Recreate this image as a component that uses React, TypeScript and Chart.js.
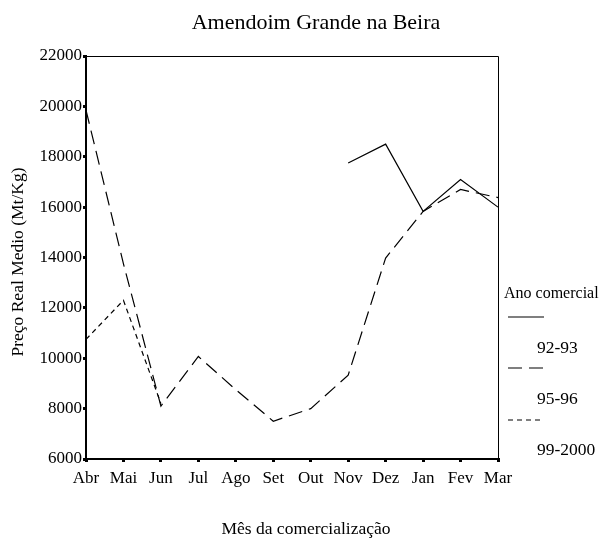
import React, { useEffect, useRef } from "react";
import { Chart, registerables } from "chart.js";

Chart.register(...registerables);

const months = ["Abr", "Mai", "Jun", "Jul", "Ago", "Set", "Out", "Nov", "Dez", "Jan", "Fev", "Mar"];
const s9293: (number | null)[] = [null, null, null, null, null, null, null, 17750, 18500, 15830, 17100, 16000];
const s9596: (number | null)[] = [19850, 13750, 8100, 10070, 8750, 7500, 8000, 9330, 13980, 15830, 16700, 16380];
const s9900: (number | null)[] = [10750, 12300, 8200, null, null, null, null, null, null, null, null, null];
const seriesLabels = ["92-93", "95-96", "99-2000"];
const yTicks = [6000, 8000, 10000, 12000, 14000, 16000, 18000, 20000, 22000];

const chartTitle = "Amendoim Grande na Beira";
const xTitle = "Mês da comercialização";
const yTitle = "Preço Real Medio (Mt/Kg)";
const legendTitle = "Ano comercial";

const FONT = '"Liberation Serif", "Times New Roman", serif';

const decor = {
  id: "decor",
  afterDraw(chart: any) {
    const { ctx, chartArea } = chart;
    ctx.save();
    ctx.strokeStyle = "#000";
    ctx.lineWidth = 1;
    ctx.beginPath();
    ctx.moveTo(chartArea.left, chartArea.top + 0.5);
    ctx.lineTo(chartArea.right + 0.5, chartArea.top + 0.5);
    ctx.lineTo(chartArea.right + 0.5, chartArea.bottom);
    ctx.stroke();

    ctx.fillStyle = "#000";
    ctx.font = `22px ${FONT}`;
    ctx.textAlign = "center";
    ctx.textBaseline = "middle";
    ctx.fillText(chartTitle, 316, 23);
    ctx.font = `17.5px ${FONT}`;
    ctx.fillText(xTitle, 306, 529);
    ctx.save();
    ctx.translate(18, 262);
    ctx.rotate(-Math.PI / 2);
    ctx.fillText(yTitle, 0, 0);
    ctx.restore();

    ctx.textAlign = "left";
    ctx.font = `16px ${FONT}`;
    ctx.fillText(legendTitle, 504, 294);
    ctx.font = `17.5px ${FONT}`;
    const ds = chart.data.datasets;
    const lineYs = [317, 368, 420];
    const textYs = [348, 399, 450];
    ds.forEach((d: any, i: number) => {
      ctx.save();
      ctx.strokeStyle = "#000";
      ctx.lineWidth = 1.2;
      ctx.setLineDash(d.borderDash || []);
      ctx.beginPath();
      ctx.moveTo(508, lineYs[i]);
      ctx.lineTo(544, lineYs[i]);
      ctx.stroke();
      ctx.restore();
      ctx.fillText(d.label, 537, textYs[i]);
    });
    ctx.restore();
  },
};

export default function App() {
  const ref = useRef<HTMLCanvasElement | null>(null);
  useEffect(() => {
    if (!ref.current) return;
    const chart = new Chart(ref.current, {
      type: "line",
      data: {
        labels: months,
        datasets: [
          { label: seriesLabels[0], data: s9293, borderColor: "#000", borderWidth: 1.2, borderDash: [], pointRadius: 0, fill: false, tension: 0 },
          { label: seriesLabels[1], data: s9596, borderColor: "#000", borderWidth: 1.2, borderDash: [14, 7], pointRadius: 0, fill: false, tension: 0 },
          { label: seriesLabels[2], data: s9900, borderColor: "#000", borderWidth: 1.2, borderDash: [5, 4], pointRadius: 0, fill: false, tension: 0 },
        ],
      },
      options: {
        animation: false,
        responsive: true,
        maintainAspectRatio: false,
        layout: { padding: { top: 56, right: 102, left: 0, bottom: 0 } },
        plugins: { legend: { display: false }, title: { display: false }, tooltip: { enabled: false } },
        scales: {
          x: {
            type: "category",
            offset: false,
            afterFit: (s: any) => { s.height = 79; },
            border: { display: true, color: "#000", width: 2 },
            grid: { drawOnChartArea: false, drawTicks: true, tickLength: 3, color: "#000", lineWidth: 3 },
            ticks: { color: "#000", font: { family: FONT, size: 17 }, padding: 6, maxRotation: 0, autoSkip: false },
          },
          y: {
            min: 6000,
            max: 22000,
            afterFit: (s: any) => { s.width = 86; },
            afterBuildTicks: (s: any) => { s.ticks = yTicks.map((v) => ({ value: v })); },
            border: { display: true, color: "#000", width: 2 },
            grid: { drawOnChartArea: false, drawTicks: true, tickLength: 3, color: "#000", lineWidth: 3 },
            ticks: { color: "#000", font: { family: FONT, size: 17 }, padding: 1, callback: (v: any) => String(v) },
          },
        },
      },
      plugins: [decor],
    });
    return () => chart.destroy();
  }, []);
  return (
    <div style={{ position: "fixed", left: 0, top: 0, width: 600, height: 538, background: "#fff" }}>
      <canvas ref={ref} />
    </div>
  );
}
